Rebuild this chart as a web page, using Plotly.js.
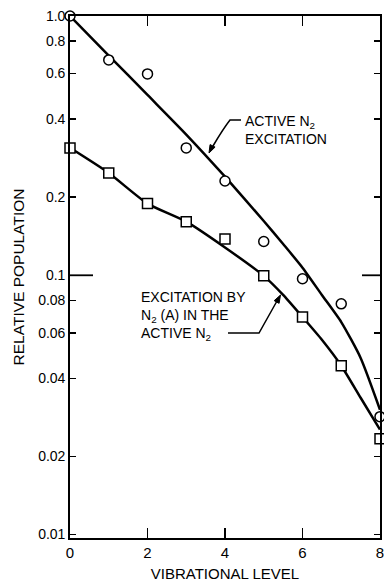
<!DOCTYPE html>
<html>
<head>
<meta charset="utf-8">
<script src="https://cdn.plot.ly/plotly-3.0.1.min.js"></script>
<style>html,body{margin:0;padding:0;background:#fff;}#chart{width:384px;height:583px;}</style>
</head>
<body>
<div id="chart"></div>
<script>
// ---- data ----
const levels = [0, 1, 2, 3, 4, 5, 6, 7, 8];
const activeObs = [1.0, 0.677, 0.598, 0.31, 0.231, 0.135, 0.097, 0.0776, 0.0285];
const nAObs = [0.31, 0.248, 0.189, 0.161, 0.138, 0.0995, 0.069, 0.0448, 0.0234];
const fitLevels = [0, 1, 2, 3, 4, 5, 5.5, 6, 6.5, 7, 7.5, 8];
const activeFit = [1.0, 0.704, 0.496, 0.349, 0.240, 0.162, 0.132, 0.107, 0.084, 0.066, 0.048, 0.0303];
const nAFit = [0.31, 0.248, 0.189, 0.161, 0.128, 0.0995, 0.084, 0.069, 0.0564, 0.0448, 0.0337, 0.0254];
const yTickVals = [0.01, 0.02, 0.04, 0.06, 0.08, 0.1, 0.2, 0.4, 0.6, 0.8, 1.0];
const yTickText = ["0.01", "0.02", "0.04", "0.06", "0.08", "0.1", "0.2", "0.4", "0.6", "0.8", "1.0"];
const xTickVals = [0, 2, 4, 6, 8];

// ---- layout helpers ----
const W = 384, H = 583, M = {l: 70, r: 4, t: 16, b: 45};
const PW = W - M.l - M.r, PH = H - M.t - M.b;
const yLo = Math.log10(0.0097), yHi = 0;
const px = x => (x - M.l) / PW;
const py = y => 1 - (y - M.t) / PH;
const yPaper = v => (Math.log10(v) - yLo) / (yHi - yLo);
function arrowHead(tx, ty, fx, fy) {
  const dx = tx - fx, dy = ty - fy, L = Math.hypot(dx, dy);
  const ux = dx / L, uy = dy / L, len = 8, hw = 2.8;
  const bx = tx - ux * len, by = ty - uy * len;
  const p1 = [bx - uy * hw, by + ux * hw], p2 = [bx + uy * hw, by - ux * hw];
  return `M ${px(tx)},${py(ty)} L ${px(p1[0])},${py(p1[1])} L ${px(p2[0])},${py(p2[1])} Z`;
}
const FONT = {family: "Liberation Sans, Arial, sans-serif", color: "#000"};

const traces = [
  {x: fitLevels, y: activeFit, mode: "lines", line: {color: "#000", width: 2.5, shape: "spline", smoothing: 0.6}, hoverinfo: "skip"},
  {x: fitLevels, y: nAFit, mode: "lines", line: {color: "#000", width: 2.5, shape: "spline", smoothing: 0.6}, hoverinfo: "skip"},
  {x: levels, y: activeObs, mode: "markers", cliponaxis: false,
   marker: {symbol: "circle", size: 10, color: "#fff", line: {color: "#000", width: 1.5}}},
  {x: levels, y: nAObs, mode: "markers", cliponaxis: false,
   marker: {symbol: "square", size: 10, color: "#fff", line: {color: "#000", width: 1.5}}}
];

const leader1 = `M ${px(241)},${py(120)} L ${px(230)},${py(120)} Q ${px(223)},${py(129)} ${px(213)},${py(146)}`;
const leader2 = `M ${px(228)},${py(333)} L ${px(259)},${py(333)} L ${px(277)},${py(301)}`;

const layout = {
  width: W, height: H, margin: M,
  paper_bgcolor: "#fff", plot_bgcolor: "#fff",
  showlegend: false,
  font: Object.assign({size: 14}, FONT),
  xaxis: {
    range: [0, 8], tickvals: xTickVals, ticks: "inside", ticklen: 10, tickwidth: 1.5, tickcolor: "#000",
    showline: true, linecolor: "#000", linewidth: 2, mirror: "ticks",
    showgrid: false, zeroline: false, ticklabeloverflow: "allow",
    tickfont: Object.assign({size: 15}, FONT),
    title: {text: "VIBRATIONAL LEVEL", font: Object.assign({size: 15}, FONT), standoff: 8}
  },
  yaxis: {
    type: "log", range: [yLo, yHi], tickvals: yTickVals, ticktext: yTickText,
    ticks: "inside", ticklen: 6, tickwidth: 1.5, tickcolor: "#000",
    showline: true, linecolor: "#000", linewidth: 1.8, mirror: "ticks",
    showgrid: false, zeroline: false, ticklabeloverflow: "allow",
    tickfont: Object.assign({size: 14}, FONT),
    title: {text: "RELATIVE POPULATION", font: Object.assign({size: 15.5}, FONT), standoff: 10}
  },
  shapes: [
    {type: "line", xref: "paper", yref: "paper", x0: 0, x1: 23 / PW, y0: yPaper(0.1), y1: yPaper(0.1), line: {color: "#000", width: 1.8}},
    {type: "line", xref: "paper", yref: "paper", x0: 1 - 18 / PW, x1: 1, y0: yPaper(0.1), y1: yPaper(0.1), line: {color: "#000", width: 1.8}},
    {type: "path", xref: "paper", yref: "paper", path: leader1, line: {color: "#000", width: 1.5}},
    {type: "path", xref: "paper", yref: "paper", path: arrowHead(209, 153, 214, 143), fillcolor: "#000", line: {color: "#000", width: 1}},
    {type: "path", xref: "paper", yref: "paper", path: leader2, line: {color: "#000", width: 1.5}},
    {type: "path", xref: "paper", yref: "paper", path: arrowHead(280.5, 295, 275, 305), fillcolor: "#000", line: {color: "#000", width: 1}}
  ],
  annotations: [
    {xref: "paper", yref: "paper", x: px(243), y: py(130), xanchor: "left", yanchor: "middle", align: "left",
     showarrow: false, text: "ACTIVE N<sub>2</sub><br>EXCITATION", font: Object.assign({size: 14}, FONT)},
    {xref: "paper", yref: "paper", x: px(139), y: py(316), xanchor: "left", yanchor: "middle", align: "left",
     showarrow: false, text: "EXCITATION BY<br>N<sub>2</sub> (A) IN THE<br>ACTIVE N<sub>2</sub>", font: Object.assign({size: 14}, FONT)}
  ]
};

Plotly.newPlot("chart", traces, layout, {staticPlot: true, displayModeBar: false});
</script>
</body>
</html>
